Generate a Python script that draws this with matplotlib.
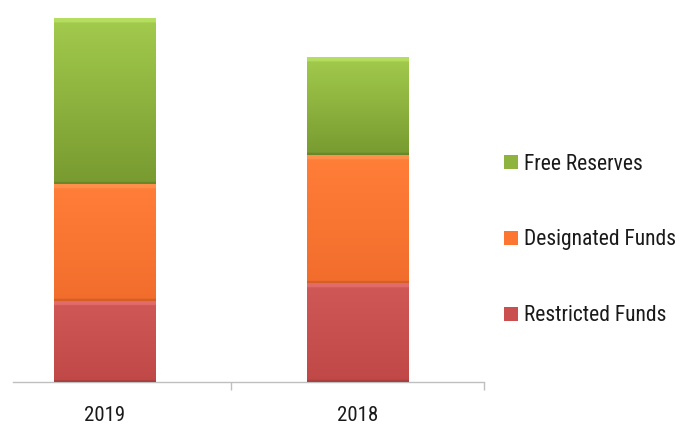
import numpy as np
import matplotlib
matplotlib.use("Agg")
import matplotlib.pyplot as plt
from matplotlib import font_manager
from matplotlib.colors import to_rgb

# ---- data ----
years = ["2019", "2018"]
restricted = [81, 99]
designated = [117, 128]
free_reserves = [166, 98]
series_names = ["Restricted Funds", "Designated Funds", "Free Reserves"]

# ---- font ----
names = {f.name for f in font_manager.fontManager.ttflist}
fam = None
for cand in ["Roboto Condensed", "Liberation Sans Narrow", "DejaVu Sans Condensed", "Open Sans Condensed"]:
    if cand in names:
        fam = cand
        break
if fam is None:
    fam = "DejaVu Sans"
    stretch = "condensed"
else:
    stretch = "normal"
plt.rcParams["font.family"] = [fam, "DejaVu Sans"]

fig = plt.figure(figsize=(6.8, 4.26), dpi=100)
ax = fig.add_axes([13/680, 44/426, 471/680, 382/426])

x = np.arange(len(years))
width = 0.40
cols = {
    "Restricted Funds": ("#D05856", "#C9504F", "#C04948"),
    "Designated Funds": ("#FF7E38", "#FC7632", "#F26D2C"),
    "Free Reserves": ("#A3CB4D", "#8EB33F", "#789A30"),
}
vals = [restricted, designated, free_reserves]
bottom = np.zeros(len(years))
containers = []
for name, v in zip(series_names, vals):
    top_c, mid_c, bot_c = cols[name]
    bc = ax.bar(x, v, width, bottom=bottom, color=mid_c, label=name,
                edgecolor="none", linewidth=0, zorder=2)
    containers.append(bc)
    bottom = bottom + np.array(v)

ax.set_xlim(-0.36, 1.5)
ax.set_ylim(0, 382)

# subtle gradient shading of each bar segment
for name, bc in zip(series_names, containers):
    top_c, mid_c, bot_c = [np.array(to_rgb(c)) for c in cols[name]]
    for p in bc.patches:
        x0, y0 = p.get_x(), p.get_y()
        w, h = p.get_width(), p.get_height()
        n = 300
        t = np.linspace(0, 1, n)[:, None]  # 0 top, 1 bottom
        grad = top_c * (1 - t) + bot_c * t
        hl = 4.0 / max(h, 1)
        hl_mask = (t < hl).astype(float)
        light = np.minimum(top_c + 0.12, 1)
        grad = grad * (1 - hl_mask * 0.6) + light * hl_mask * 0.6
        dk = (t > 1 - 2.0 / max(h, 1)).astype(float)
        grad = grad * (1 - dk * 0.12)
        img = np.repeat(grad[:, None, :], 2, axis=1)
        im = ax.imshow(img, extent=(x0, x0 + w, y0, y0 + h), aspect="auto",
                       origin="upper", zorder=3, interpolation="bilinear")
        im.set_clip_path(p)

ax.set_xlim(-0.36, 1.5)
ax.set_ylim(0, 382)

for s in ["top", "right", "left"]:
    ax.spines[s].set_visible(False)
ax.spines["bottom"].set_color("#BFBFBF")
ax.spines["bottom"].set_linewidth(1.0)
ax.set_yticks([])
ax.set_xticks([0.5, 1.5])
ax.set_xticklabels([])
ax.tick_params(axis="x", which="major", length=6, color="#BFBFBF", width=1.0)
ax.set_xticks(x, minor=True)
ax.set_xticklabels(years, minor=True, fontsize=15, color="#1A1A1A", fontstretch=stretch)
ax.tick_params(axis="x", which="minor", length=0, pad=17)

handles = [containers[2], containers[1], containers[0]]
labels = ["Free Reserves", "Designated Funds", "Restricted Funds"]
leg = fig.legend(handles, labels, loc="center left", bbox_to_anchor=(504/680, 1 - 240/426),
                 frameon=False, handlelength=0.65, handleheight=0.65,
                 handletextpad=0.3, labelspacing=2.55, borderpad=0, borderaxespad=0,
                 prop={"family": [fam, "DejaVu Sans"], "size": 15.5, "stretch": stretch})
for t in leg.get_texts():
    t.set_color("#1A1A1A")

fig.savefig("out.png", dpi=100)
